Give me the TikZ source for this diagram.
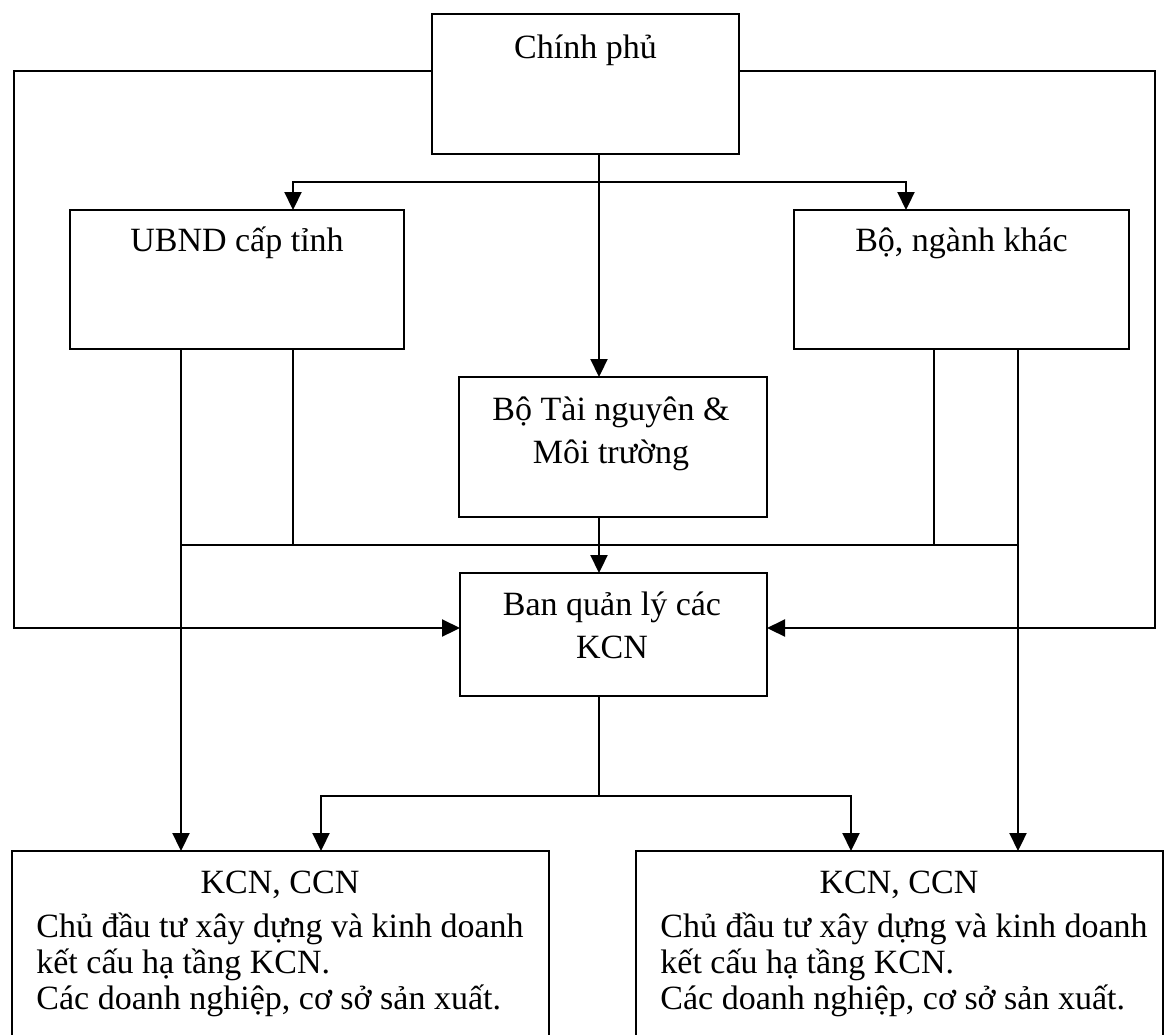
\documentclass[tikz,border=0pt]{standalone}
\usepackage{fontspec}
\setmainfont{Liberation Serif}
\usetikzlibrary{arrows.meta}
\begin{document}
\begin{tikzpicture}[x=0.5pt,y=-0.5pt,
  box/.style 2 args={draw, line width=1.1pt, inner sep=0pt, outer sep=0pt,
    minimum width=#1*0.5pt, minimum height=#2*0.5pt},
  ln/.style={draw, line width=1.1pt},
  arr/.style={ln, -{Triangle[length=9pt,width=8.5pt]}},
  txt/.style={anchor=base, inner sep=0pt, font=\fontsize{17}{20}\selectfont}]
\useasboundingbox (0,0) rectangle (1166,1034);
\clip (0,0) rectangle (1166,1034);
\fill[white] (0,0) rectangle (1166,1034);

% boxes
\node[box={307}{140}] (gov)  at (585.5,84) {};
\node[box={334}{139}] (ubnd) at (237,279.5) {};
\node[box={335}{139}] (bo)   at (961.5,279.5) {};
\node[box={308}{140}] (tnmt) at (613,447) {};
\node[box={307}{123}] (ban)  at (613.5,634.5) {};
\node[box={537}{230}] (kcn1) at (280.5,966) {};
\node[box={527}{230}] (kcn2) at (899.5,966) {};

% texts
\node[txt] (govt) at (585.5,58) {Chính phủ};
\node[txt] (ubndt) at (237,251) {UBND cấp tỉnh};
\node[txt] (bot) at (961.5,251) {Bộ, ngành khác};
\node[txt] (tnmt1) at (611,420) {Bộ Tài nguyên \&};
\node[txt] (tnmt2) at (611,463) {Môi trường};
\node[txt] (ban1) at (612,615) {Ban quản lý các};
\node[txt] (ban2) at (612,658) {KCN};

\node[txt] (k1a) at (280,893) {KCN, CCN};
\node[txt, anchor=base west] (k1b) at (36,937) {Chủ đầu tư xây dựng và kinh doanh};
\node[txt, anchor=base west] (k1c) at (36,973) {kết cấu hạ tầng KCN.};
\node[txt, anchor=base west] (k1d) at (36,1009) {Các doanh nghiệp, cơ sở sản xuất.};

\node[txt] (k2a) at (899,893) {KCN, CCN};
\node[txt, anchor=base west] (k2b) at (660,937) {Chủ đầu tư xây dựng và kinh doanh};
\node[txt, anchor=base west] (k2c) at (660,973) {kết cấu hạ tầng KCN.};
\node[txt, anchor=base west] (k2d) at (660,1009) {Các doanh nghiệp, cơ sở sản xuất.};

% helper coordinates
\coordinate (cx) at (599,0);
\coordinate (xa) at (293,0);
\coordinate (xb) at (906,0);
\coordinate (x1) at (181,0);
\coordinate (x3) at (934,0);
\coordinate (x4) at (1018,0);
\coordinate (x5) at (321,0);
\coordinate (x6) at (851,0);
\coordinate (tb) at (599,182);
\coordinate (mb) at (599,545);
\coordinate (bb) at (599,796);

% outer loops
\draw[arr] ([yshift=6.5pt]gov.west) -- ++(-418,0) |- ([yshift=3.25pt]ban.west);
\draw[arr] ([yshift=6.5pt]gov.east) -- ++(416,0) |- ([yshift=3.25pt]ban.east);

% government down
\draw[arr] (gov.south -| cx) -- (tnmt.north -| cx);
\draw[arr] (tb) -| (ubnd.north -| xa);
\draw[arr] (tb) -| (bo.north -| xb);

% UBND and Bo down
\draw[arr] (ubnd.south -| x1) -- (kcn1.north -| x1);
\draw[ln] (ubnd.south -| xa) -- (xa |- mb);
\draw[ln] (bo.south -| x3) -- (x3 |- mb);
\draw[arr] (bo.south -| x4) -- (kcn2.north -| x4);
\draw[ln] (x1 |- mb) -- (x4 |- mb);

% TNMT to Ban
\draw[arr] (tnmt.south -| cx) -- (ban.north -| cx);

% Ban to KCN
\draw[ln] (ban.south -| cx) -- (bb);
\draw[arr] (bb) -| (kcn1.north -| x5);
\draw[arr] (bb) -| (kcn2.north -| x6);
\end{tikzpicture}
\end{document}
